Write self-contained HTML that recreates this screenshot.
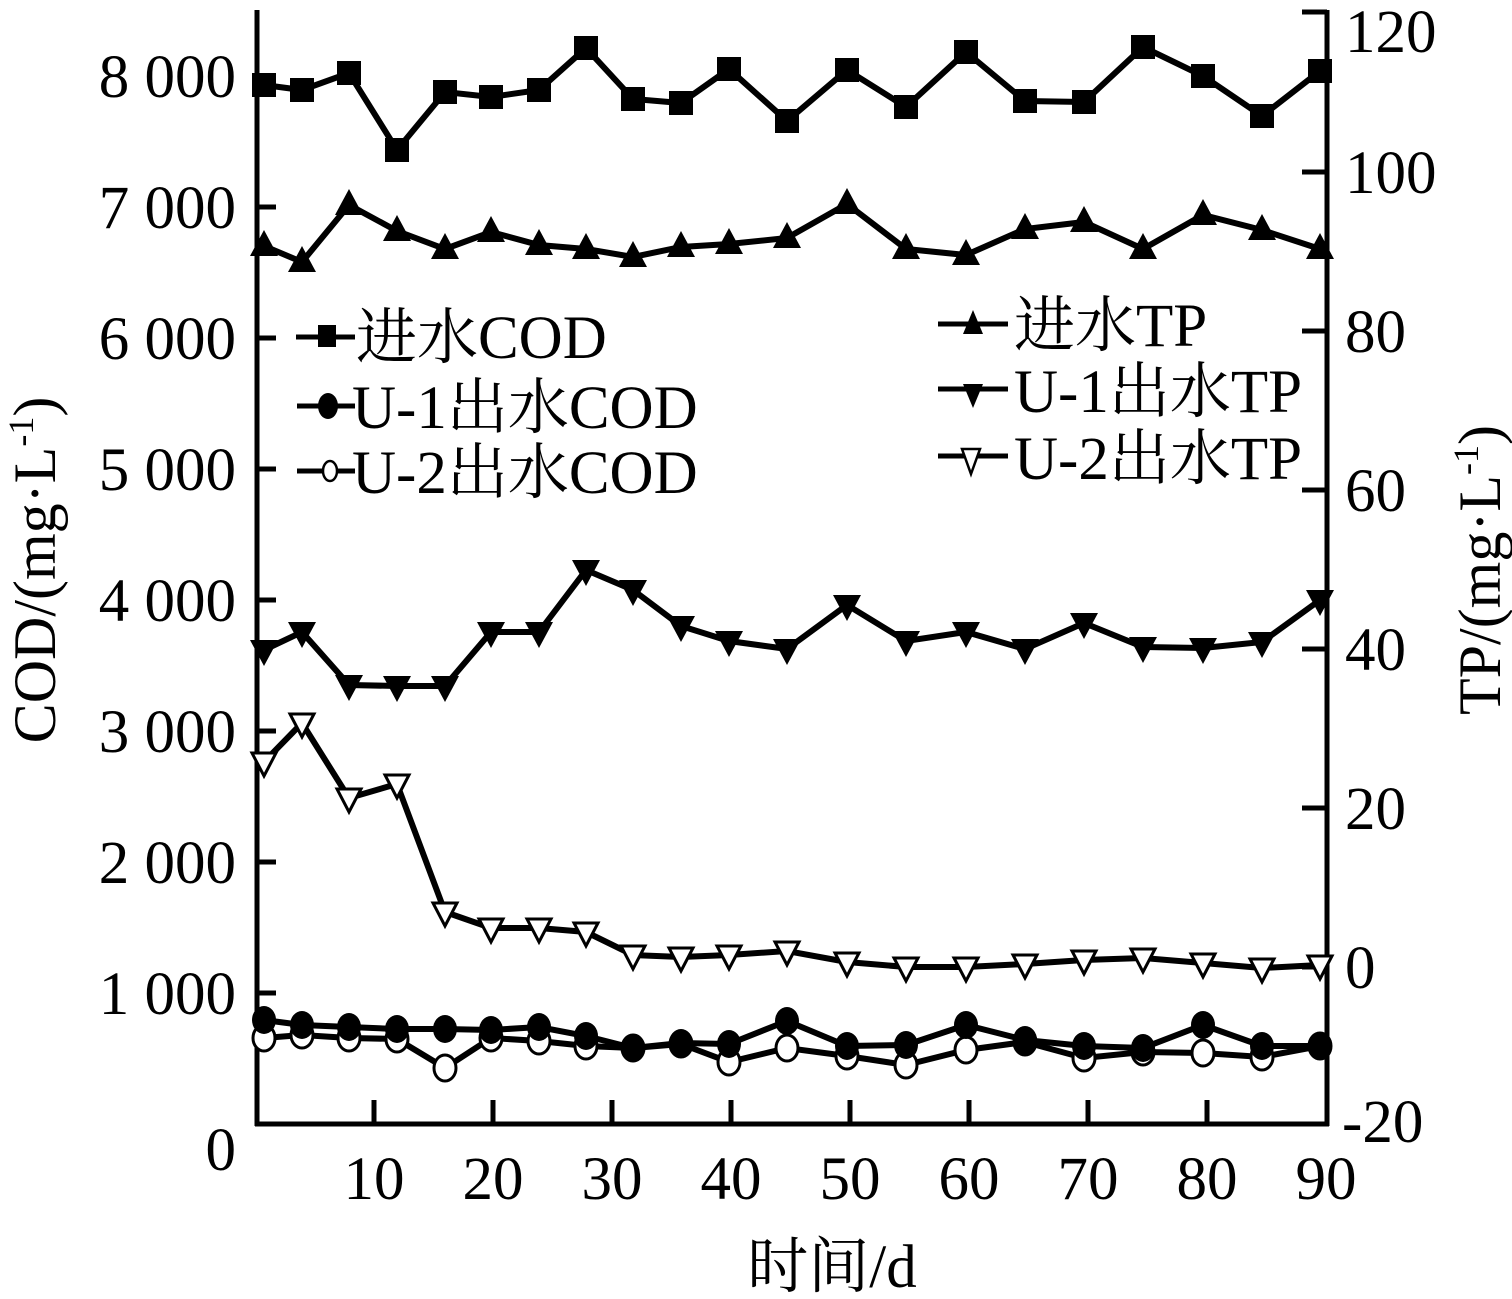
<!DOCTYPE html>
<html><head><meta charset="utf-8"><style>
html,body{margin:0;padding:0;background:#fff;}
svg{display:block;}
text{font-family:"Liberation Serif","Noto Serif CJK SC",serif;fill:#000;}
</style></head><body>
<svg width="1512" height="1299" viewBox="0 0 1512 1299" xmlns="http://www.w3.org/2000/svg">
<defs>
<rect id="sq" x="-12" y="-12" width="24" height="24" fill="#000"/>
<polygon id="tu" points="0,-16 14,10 -14,10" fill="#000"/>
<polygon id="td" points="0,16 14,-10 -14,-10" fill="#000"/>
<polygon id="to" points="0,14 12,-9 -12,-9" fill="#fff" stroke="#000" stroke-width="3"/>
<ellipse id="cf" rx="12" ry="14" fill="#000"/>
<ellipse id="co" rx="11" ry="13" fill="#fff" stroke="#000" stroke-width="3"/>
</defs>
<g stroke="#000" stroke-width="5" fill="none">
<line x1="257" y1="10" x2="257" y2="1126"/>
<line x1="1327" y1="10" x2="1327" y2="1126"/>
<line x1="255" y1="1124" x2="1329" y2="1124"/>
<line x1="257" y1="76" x2="276" y2="76"/><line x1="257" y1="207" x2="276" y2="207"/>
<line x1="257" y1="338" x2="276" y2="338"/><line x1="257" y1="469" x2="276" y2="469"/>
<line x1="257" y1="600" x2="276" y2="600"/><line x1="257" y1="731" x2="276" y2="731"/>
<line x1="257" y1="862" x2="276" y2="862"/><line x1="257" y1="993" x2="276" y2="993"/>
<line x1="1302" y1="12" x2="1327" y2="12"/><line x1="1302" y1="172" x2="1327" y2="172"/>
<line x1="1302" y1="331" x2="1327" y2="331"/><line x1="1302" y1="490" x2="1327" y2="490"/>
<line x1="1302" y1="649" x2="1327" y2="649"/><line x1="1302" y1="808" x2="1327" y2="808"/>
<line x1="1302" y1="967" x2="1327" y2="967"/>
<line x1="374" y1="1100" x2="374" y2="1124"/><line x1="493" y1="1100" x2="493" y2="1124"/>
<line x1="612" y1="1100" x2="612" y2="1124"/><line x1="731" y1="1100" x2="731" y2="1124"/>
<line x1="850" y1="1100" x2="850" y2="1124"/><line x1="969" y1="1100" x2="969" y2="1124"/>
<line x1="1088" y1="1100" x2="1088" y2="1124"/><line x1="1207" y1="1100" x2="1207" y2="1124"/>
</g>
<g font-size="61" text-anchor="end">
<text x="236" y="97">8 000</text><text x="236" y="228">7 000</text>
<text x="236" y="359">6 000</text><text x="236" y="490">5 000</text>
<text x="236" y="621">4 000</text><text x="236" y="752">3 000</text>
<text x="236" y="883">2 000</text><text x="236" y="1014">1 000</text>
<text x="236" y="1170">0</text>
</g>
<g font-size="61" text-anchor="start">
<text x="1345" y="52">120</text><text x="1345" y="193">100</text>
<text x="1345" y="352">80</text><text x="1345" y="511">60</text>
<text x="1345" y="670">40</text><text x="1345" y="829">20</text>
<text x="1345" y="988">0</text><text x="1342" y="1142">-20</text>
</g>
<g font-size="61" text-anchor="middle">
<text x="374" y="1199">10</text><text x="493" y="1199">20</text><text x="612" y="1199">30</text>
<text x="731" y="1199">40</text><text x="850" y="1199">50</text><text x="969" y="1199">60</text>
<text x="1088" y="1199">70</text><text x="1207" y="1199">80</text><text x="1326" y="1199">90</text>
</g>
<text x="832" y="1287" font-size="61" text-anchor="middle">时间/d</text>
<text transform="translate(55,570) rotate(-90)" font-size="60" text-anchor="middle">COD/(mg·L<tspan font-size="36" dy="-22">-1</tspan><tspan dy="22">)</tspan></text>
<text transform="translate(1500,570) rotate(-90)" font-size="60" text-anchor="middle">TP/(mg·L<tspan font-size="36" dy="-22">-1</tspan><tspan dy="22">)</tspan></text>

<g fill="none" stroke="#000" stroke-width="6">
<polyline points="264,85 302,90 349,73 397,150 445,92 491,97 539,90 586,48 633,99 681,103 729,69 787,121 847,70 906,107 966,52 1025,101 1084,102 1143,47 1203,76 1262,116 1320,71"/>
<polyline points="264,246 302,262 349,205 397,231 445,249 491,232 539,245 586,249 633,257 681,247 729,244 787,238 847,204 906,249 966,255 1025,229 1084,222 1143,249 1203,215 1262,230 1320,249"/>
<polyline points="264,650 302,632 349,685 397,686 445,686 491,632 539,632 586,570 633,590 681,626 729,641 787,649 847,605 906,641 966,632 1025,649 1084,623 1143,647 1203,648 1262,642 1320,600"/>
<polyline points="264,762 302,723 349,798 397,784 445,912 491,928 539,928 586,932 633,955 681,957 729,955 787,951 847,962 906,967 966,967 1025,964 1084,960 1143,958 1203,963 1262,968 1320,965"/>
<polyline points="264,1038 302,1035 349,1038 397,1039 445,1068 491,1038 539,1041 586,1046 633,1048 681,1044 729,1062 787,1048 847,1056 906,1065 966,1050 1025,1042 1084,1058 1143,1052 1203,1053 1262,1057 1320,1046"/>
<polyline points="264,1020 302,1025 349,1027 397,1029 445,1029 491,1030 539,1027 586,1036 633,1048 681,1043 729,1044 787,1021 847,1046 906,1045 966,1025 1025,1040 1084,1046 1143,1048 1203,1025 1262,1046 1320,1046"/>
</g>
<g>
<use href="#sq" x="264" y="85"/><use href="#sq" x="302" y="90"/><use href="#sq" x="349" y="73"/><use href="#sq" x="397" y="150"/><use href="#sq" x="445" y="92"/><use href="#sq" x="491" y="97"/><use href="#sq" x="539" y="90"/><use href="#sq" x="586" y="48"/><use href="#sq" x="633" y="99"/><use href="#sq" x="681" y="103"/><use href="#sq" x="729" y="69"/><use href="#sq" x="787" y="121"/><use href="#sq" x="847" y="70"/><use href="#sq" x="906" y="107"/><use href="#sq" x="966" y="52"/><use href="#sq" x="1025" y="101"/><use href="#sq" x="1084" y="102"/><use href="#sq" x="1143" y="47"/><use href="#sq" x="1203" y="76"/><use href="#sq" x="1262" y="116"/><use href="#sq" x="1320" y="71"/>
<use href="#tu" x="264" y="246"/><use href="#tu" x="302" y="262"/><use href="#tu" x="349" y="205"/><use href="#tu" x="397" y="231"/><use href="#tu" x="445" y="249"/><use href="#tu" x="491" y="232"/><use href="#tu" x="539" y="245"/><use href="#tu" x="586" y="249"/><use href="#tu" x="633" y="257"/><use href="#tu" x="681" y="247"/><use href="#tu" x="729" y="244"/><use href="#tu" x="787" y="238"/><use href="#tu" x="847" y="204"/><use href="#tu" x="906" y="249"/><use href="#tu" x="966" y="255"/><use href="#tu" x="1025" y="229"/><use href="#tu" x="1084" y="222"/><use href="#tu" x="1143" y="249"/><use href="#tu" x="1203" y="215"/><use href="#tu" x="1262" y="230"/><use href="#tu" x="1320" y="249"/>
<use href="#td" x="264" y="650"/><use href="#td" x="302" y="632"/><use href="#td" x="349" y="685"/><use href="#td" x="397" y="686"/><use href="#td" x="445" y="686"/><use href="#td" x="491" y="632"/><use href="#td" x="539" y="632"/><use href="#td" x="586" y="570"/><use href="#td" x="633" y="590"/><use href="#td" x="681" y="626"/><use href="#td" x="729" y="641"/><use href="#td" x="787" y="649"/><use href="#td" x="847" y="605"/><use href="#td" x="906" y="641"/><use href="#td" x="966" y="632"/><use href="#td" x="1025" y="649"/><use href="#td" x="1084" y="623"/><use href="#td" x="1143" y="647"/><use href="#td" x="1203" y="648"/><use href="#td" x="1262" y="642"/><use href="#td" x="1320" y="600"/>
<use href="#to" x="264" y="762"/><use href="#to" x="302" y="723"/><use href="#to" x="349" y="798"/><use href="#to" x="397" y="784"/><use href="#to" x="445" y="912"/><use href="#to" x="491" y="928"/><use href="#to" x="539" y="928"/><use href="#to" x="586" y="932"/><use href="#to" x="633" y="955"/><use href="#to" x="681" y="957"/><use href="#to" x="729" y="955"/><use href="#to" x="787" y="951"/><use href="#to" x="847" y="962"/><use href="#to" x="906" y="967"/><use href="#to" x="966" y="967"/><use href="#to" x="1025" y="964"/><use href="#to" x="1084" y="960"/><use href="#to" x="1143" y="958"/><use href="#to" x="1203" y="963"/><use href="#to" x="1262" y="968"/><use href="#to" x="1320" y="965"/>
<use href="#co" x="264" y="1038"/><use href="#co" x="302" y="1035"/><use href="#co" x="349" y="1038"/><use href="#co" x="397" y="1039"/><use href="#co" x="445" y="1068"/><use href="#co" x="491" y="1038"/><use href="#co" x="539" y="1041"/><use href="#co" x="586" y="1046"/><use href="#co" x="633" y="1048"/><use href="#co" x="681" y="1044"/><use href="#co" x="729" y="1062"/><use href="#co" x="787" y="1048"/><use href="#co" x="847" y="1056"/><use href="#co" x="906" y="1065"/><use href="#co" x="966" y="1050"/><use href="#co" x="1025" y="1042"/><use href="#co" x="1084" y="1058"/><use href="#co" x="1143" y="1052"/><use href="#co" x="1203" y="1053"/><use href="#co" x="1262" y="1057"/><use href="#co" x="1320" y="1046"/>
<use href="#cf" x="264" y="1020"/><use href="#cf" x="302" y="1025"/><use href="#cf" x="349" y="1027"/><use href="#cf" x="397" y="1029"/><use href="#cf" x="445" y="1029"/><use href="#cf" x="491" y="1030"/><use href="#cf" x="539" y="1027"/><use href="#cf" x="586" y="1036"/><use href="#cf" x="633" y="1048"/><use href="#cf" x="681" y="1043"/><use href="#cf" x="729" y="1044"/><use href="#cf" x="787" y="1021"/><use href="#cf" x="847" y="1046"/><use href="#cf" x="906" y="1045"/><use href="#cf" x="966" y="1025"/><use href="#cf" x="1025" y="1040"/><use href="#cf" x="1084" y="1046"/><use href="#cf" x="1143" y="1048"/><use href="#cf" x="1203" y="1025"/><use href="#cf" x="1262" y="1046"/><use href="#cf" x="1320" y="1046"/>
</g>

<g stroke="#000" stroke-width="5">
<line x1="296" y1="337" x2="355" y2="337"/>
<line x1="297" y1="406" x2="355" y2="406"/>
<line x1="297" y1="471" x2="355" y2="471"/>
<line x1="938" y1="324" x2="1008" y2="324"/>
<line x1="938" y1="389" x2="1008" y2="389"/>
<line x1="938" y1="456" x2="1008" y2="456"/>
</g>
<rect x="318" y="325" width="18" height="22" fill="#000"/>
<ellipse cx="328" cy="406" rx="10" ry="13" fill="#000"/>
<ellipse cx="330" cy="471" rx="7" ry="10" fill="#fff" stroke="#000" stroke-width="2.5"/>
<polygon points="973,310 983,334 963,334" fill="#000"/>
<polygon points="973,408 983,384 963,384" fill="#000"/>
<polygon points="971,474 980,449 962,449" fill="#fff" stroke="#000" stroke-width="2.5"/>
<g font-size="61">
<text x="356" y="358">进水COD</text>
<text x="352" y="428">U-1出水COD</text>
<text x="352" y="493">U-2出水COD</text>
<text x="1014" y="346">进水TP</text>
<text x="1014" y="412">U-1出水TP</text>
<text x="1014" y="479">U-2出水TP</text>
</g>
</svg>
</body></html>
